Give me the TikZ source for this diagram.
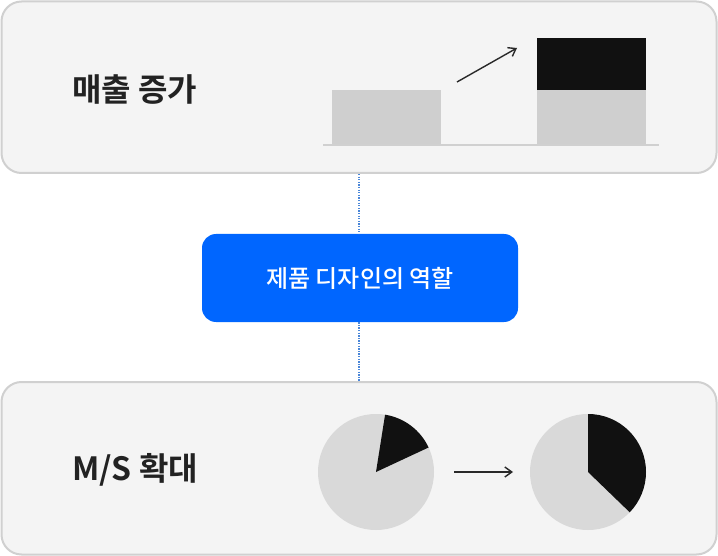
\documentclass[tikz,border=0pt]{standalone}
\usepackage{fontspec}
\setmainfont{Noto Sans CJK KR}
\newfontfamily\krbold{Noto Sans CJK KR Bold}
\newfontfamily\krmed{Noto Sans CJK KR Medium}
\usetikzlibrary{arrows.meta}
\definecolor{panelfill}{HTML}{F4F4F4}
\definecolor{panelline}{HTML}{D0D0D0}
\definecolor{btnblue}{HTML}{0066FF}
\definecolor{dotblue}{HTML}{4A86D8}
\definecolor{bargray}{HTML}{CFCFCF}
\definecolor{piegray}{HTML}{D9D9D9}
\definecolor{ink}{HTML}{111111}
\definecolor{titleink}{HTML}{222222}
\tikzset{
  panel/.style={draw=panelline, line width=2pt, fill=panelfill, rounded corners=20pt},
  title/.style={font=\krbold\fontsize{32}{36}\selectfont, text=titleink, anchor=west, inner sep=0pt},
  btn/.style={fill=btnblue, rounded corners=14pt, minimum width=316pt, minimum height=88pt, text=white, font=\krmed\fontsize{24}{28}\selectfont, inner sep=0pt},
  link/.style={dotblue, line width=1.3pt, dash pattern=on 1.3pt off 1.3pt},
  arr/.style={ink!90, line width=1.4pt, -{Straight Barb[length=7pt,width=10pt]}}
}
\begin{document}
\begin{tikzpicture}[x=1pt,y=-1pt]
\useasboundingbox (0,0) rectangle (718,556);
% panels
\draw[panel] (1.5,1.5) rectangle (716.5,173);
\draw[panel] (1.5,382) rectangle (716.5,554.5);
\node[title] (t1) at (72,90) {매출 증가};
\node[title] (t2) at (72,470) {M/S 확대};
% button
\node[btn] (b) at (360,278) {제품 디자인의 역할};
\coordinate (ct) at (359,174);
\coordinate (cb) at (359,381);
\draw[link] (ct) -- (b.north -| ct);
\draw[link] (b.south -| cb) -- (cb);
% bar chart
\fill[bargray] (332,90) rectangle (441,145);
\fill[bargray] (537,90) rectangle (646,145);
\fill[ink] (537,38) rectangle (646,90);
\draw[panelline, line width=2pt] (323,145.5) -- (659,145.5);
\coordinate (a1) at (457,82);
\coordinate (a2) at (517,48);
\draw[arr] (a1) -- (a2);
% pies
\coordinate (p1) at (376,472);
\coordinate (p2) at (588,472);
\fill[piegray] (p1) circle (58);
\fill[ink] (p1) -- ++(-25:58) arc[start angle=-25,end angle=-81,radius=58] -- cycle;
\fill[piegray] (p2) circle (58);
\fill[ink] (p2) -- ++(0,-58) arc[start angle=-90,end angle=44,radius=58] -- cycle;
\coordinate (m1) at (454,472);
\coordinate (m2) at (513,472);
\draw[arr] (m1) -- (m2);
\end{tikzpicture}
\end{document}
